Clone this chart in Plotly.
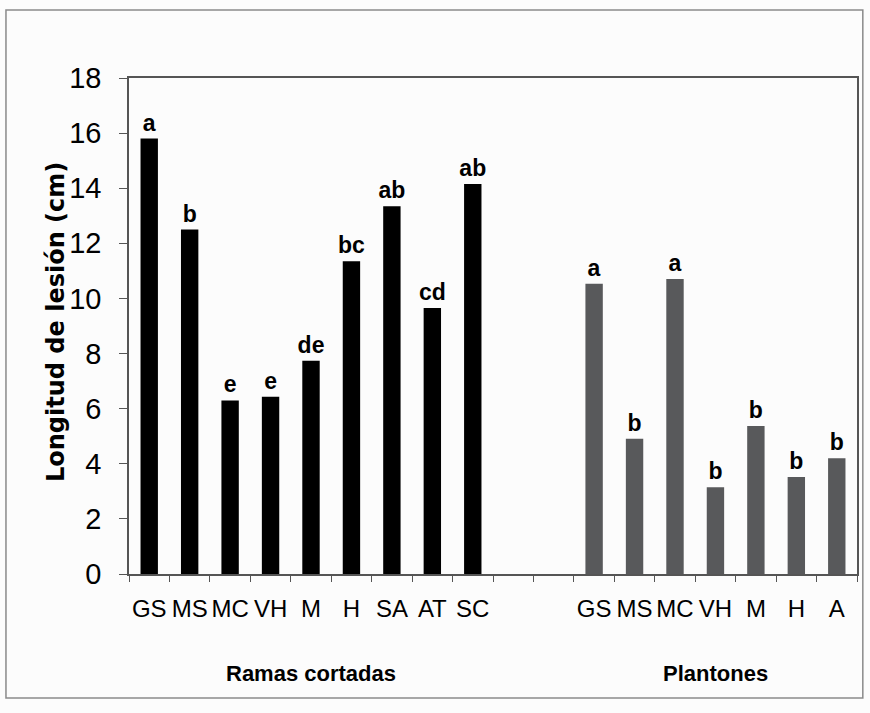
import plotly.graph_objects as go

# Data
ramas_cats = ["GS", "MS", "MC", "VH", "M", "H", "SA", "AT", "SC"]
ramas_vals = [15.8, 12.5, 6.3, 6.43, 7.74, 11.35, 13.35, 9.65, 14.15]
ramas_letters = ["a", "b", "e", "e", "de", "bc", "ab", "cd", "ab"]

plant_cats = ["GS", "MS", "MC", "VH", "M", "H", "A"]
plant_vals = [10.53, 4.91, 10.71, 3.15, 5.37, 3.52, 4.2]
plant_letters = ["a", "b", "a", "b", "b", "b", "b"]

y_ticks = list(range(0, 20, 2))
group_labels = ["Ramas cortadas", "Plantones"]
y_title = "Longitud de lesión (cm)"

# slot positions: 9 ramas, 2 empty, 7 plantones
gap_slots = 2
ramas_x = [i + 0.5 for i in range(len(ramas_cats))]
plant_start = len(ramas_cats) + gap_slots
plant_x = [plant_start + i + 0.5 for i in range(len(plant_cats))]
n_slots = plant_start + len(plant_cats)

SANS = "Liberation Sans, Arial, sans-serif"
WIDE = "DejaVu Sans, Verdana, sans-serif"

fig = go.Figure()
fig.add_trace(go.Bar(
    x=ramas_x, y=ramas_vals, width=0.43,
    marker=dict(color="#000000", line=dict(width=0)),
    text=ramas_letters, textposition="outside", constraintext="none",
    textfont=dict(family=SANS, size=23, color="#000000", weight="bold"),
    cliponaxis=False, showlegend=False,
))
fig.add_trace(go.Bar(
    x=plant_x, y=plant_vals, width=0.43,
    marker=dict(color="#58595b", line=dict(width=0)),
    text=plant_letters, textposition="outside", constraintext="none",
    textfont=dict(family=SANS, size=23, color="#000000", weight="bold"),
    cliponaxis=False, showlegend=False,
))

axis_color = "#555555"
fig.update_xaxes(
    range=[0, n_slots], showgrid=False, zeroline=False,
    showline=True, linecolor=axis_color, linewidth=1.5, mirror=True,
    tickmode="array", tickvals=ramas_x + plant_x, ticktext=ramas_cats + plant_cats,
    ticks="", ticklabelstandoff=12,
    tickfont=dict(family=SANS, size=24, color="#000000"),
    minor=dict(tickmode="array", tickvals=list(range(0, n_slots + 1)),
               ticks="outside", ticklen=6, tickcolor=axis_color, tickwidth=1.2, showgrid=False),
)
fig.update_yaxes(
    range=[0, 18], showgrid=False, zeroline=False,
    showline=True, linecolor=axis_color, linewidth=1.5, mirror=True,
    tickmode="array", tickvals=y_ticks, ticks="outside", ticklen=8,
    tickcolor=axis_color, tickwidth=1.2, ticklabelstandoff=12,
    tickfont=dict(family=SANS, size=29, color="#000000"),
)

annotations = [
    dict(text=group_labels[0], x=sum(ramas_x) / len(ramas_x), xref="x", y=-0.2, yref="paper",
         showarrow=False, font=dict(family=SANS, size=22, color="#000000", weight="bold"),
         xanchor="center", yanchor="middle"),
    dict(text=group_labels[1], x=sum(plant_x) / len(plant_x), xref="x", y=-0.2, yref="paper",
         showarrow=False, font=dict(family=SANS, size=22, color="#000000", weight="bold"),
         xanchor="center", yanchor="middle"),
    dict(text="<b>" + y_title + "</b>", x=-0.1003, xref="paper", y=0.508, yref="paper",
         textangle=-90, showarrow=False, font=dict(family=WIDE, size=24, color="#000000"),
         xanchor="center", yanchor="middle"),
]

fig.update_layout(
    width=870, height=713,
    margin=dict(l=129, r=13, t=78, b=139),
    paper_bgcolor="#fcfcfc", plot_bgcolor="#fcfcfc",
    annotations=annotations,
    shapes=[dict(type="rect", xref="paper", yref="paper",
                 x0=-0.169, x1=1.008, y0=-0.25, y1=1.137,
                 line=dict(color="#8a8a8a", width=1.5), fillcolor="rgba(0,0,0,0)", layer="below")],
    bargap=0.57,
)

fig.write_html("out.html", config={"displayModeBar": False},
               post_script="document.body.style.margin='0';document.body.style.padding='0';")
